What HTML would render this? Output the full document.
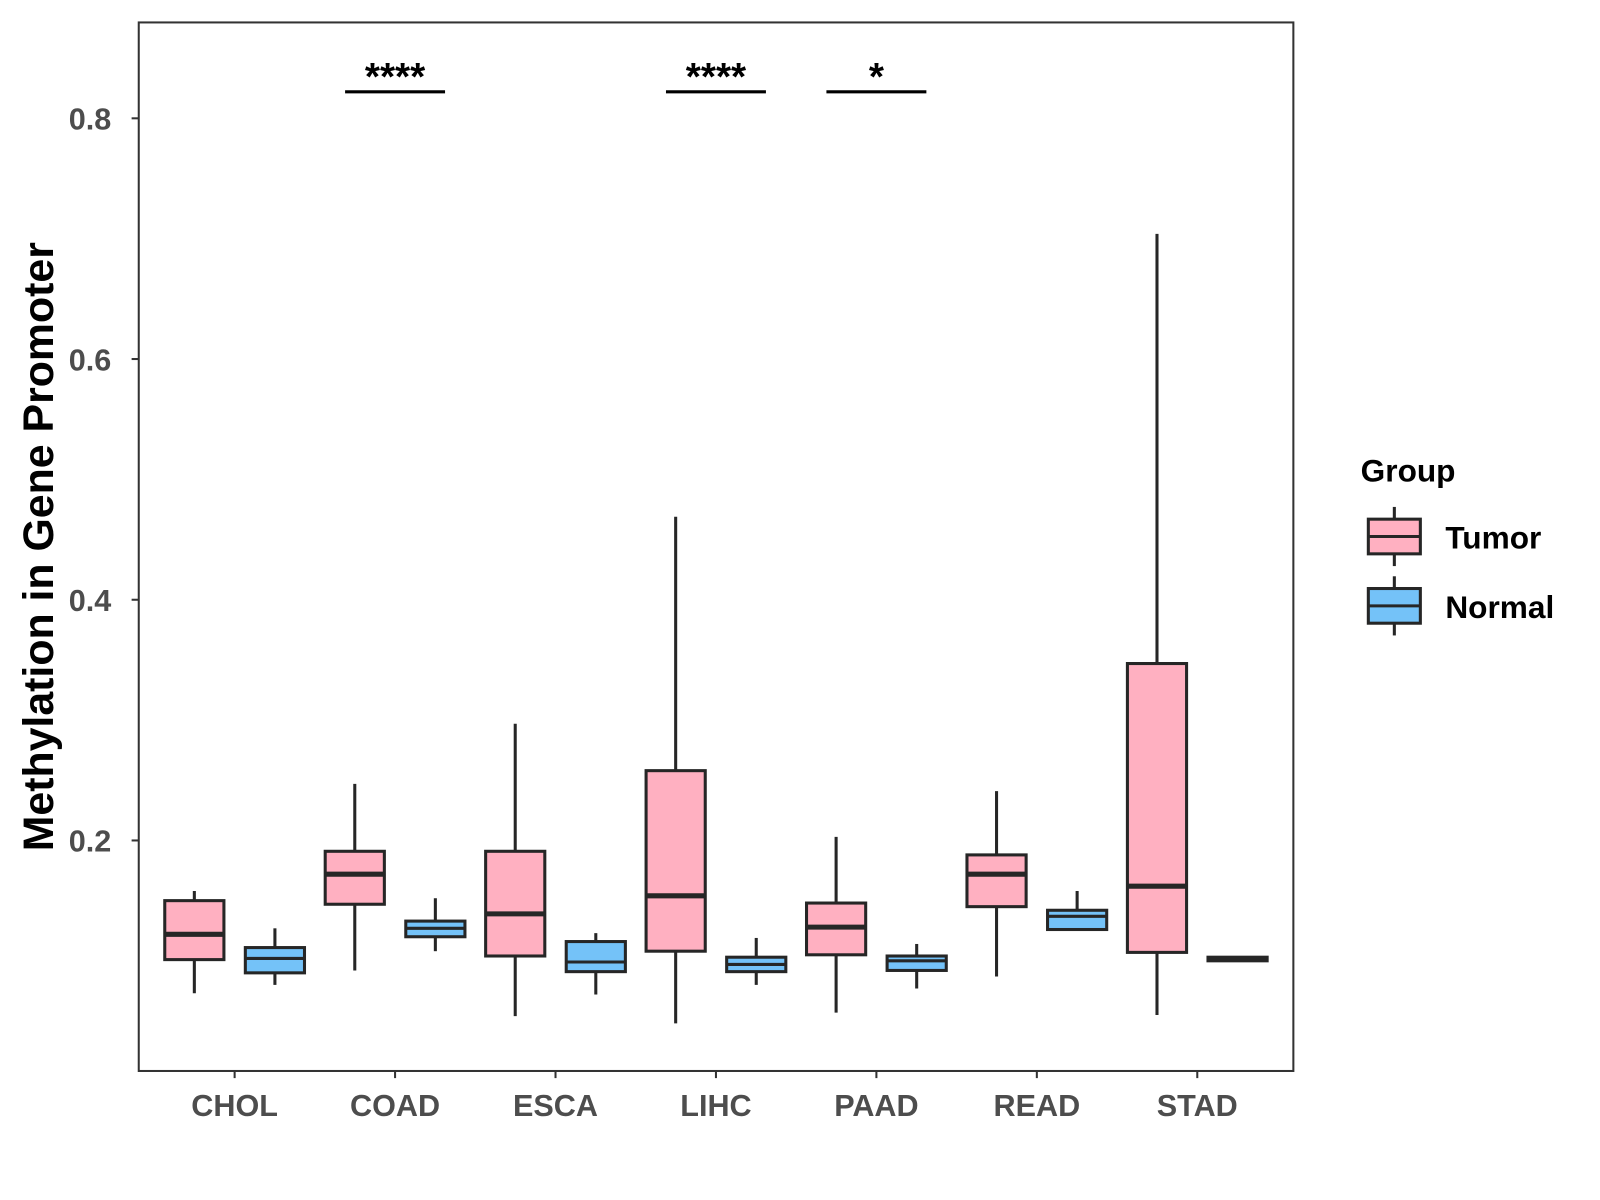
<!DOCTYPE html>
<html><head><meta charset="utf-8"><style>html,body{margin:0;padding:0;background:#fff}svg{display:block}</style></head>
<body>
<svg id="chart" width="1600" height="1200" viewBox="0 0 1568.6 1176.5" xmlns="http://www.w3.org/2000/svg" font-family="Liberation Sans, Arial, sans-serif" font-weight="bold">
<rect x="136" y="22" width="1132" height="1028" fill="#fff" stroke="#333" stroke-width="2"/>
<g id="axes"></g>
<g id="boxes"></g>
<g id="sig"></g>
<text transform="translate(52,536) rotate(-90)" text-anchor="middle" font-size="42" fill="#000">Methylation in Gene Promoter</text>
<g>
<text x="1334" y="472" font-size="31" fill="#000">Group</text>
<g>
<line x1="1367" y1="497" x2="1367" y2="555" stroke="#262626" stroke-width="3"/>
<rect x="1341.5" y="509" width="51" height="34" fill="#FFB0C1" stroke="#262626" stroke-width="3"/>
<line x1="1341.5" y1="526" x2="1392.5" y2="526" stroke="#262626" stroke-width="3"/>
<text x="1417" y="538" font-size="31" fill="#000">Tumor</text></g>
<g>
<line x1="1367" y1="565" x2="1367" y2="623" stroke="#262626" stroke-width="3"/>
<rect x="1341.5" y="577" width="51" height="34" fill="#74C2F8" stroke="#262626" stroke-width="3"/>
<line x1="1341.5" y1="594" x2="1392.5" y2="594" stroke="#262626" stroke-width="3"/>
<text x="1417" y="606" font-size="31" fill="#000">Normal</text></g>
</g>
</svg>
<script>
const categories = ["CHOL","COAD","ESCA","LIHC","PAAD","READ","STAD"];
// [lower whisker, q1, median, q3, upper whisker]
const tumorStats = [
 [0.073,0.101,0.122,0.150,0.158],
 [0.092,0.147,0.172,0.191,0.247],
 [0.054,0.104,0.139,0.191,0.297],
 [0.048,0.108,0.154,0.258,0.469],
 [0.057,0.105,0.128,0.148,0.203],
 [0.087,0.145,0.172,0.188,0.241],
 [0.055,0.107,0.162,0.347,0.704]];
const normalStats = [
 [0.080,0.090,0.102,0.111,0.127],
 [0.108,0.120,0.127,0.133,0.152],
 [0.072,0.091,0.099,0.116,0.123],
 [0.080,0.091,0.097,0.103,0.119],
 [0.077,0.092,0.100,0.104,0.114],
 [0.126,0.126,0.137,0.142,0.158],
 [0.100,0.100,0.102,0.103,0.103]];
const yTicks = [0.2,0.4,0.6,0.8];
const yTickLabels = ["0.2","0.4","0.6","0.8"];
const sigCategories = ["COAD","LIHC","PAAD"];
const sigLabels = ["****","****","*"];
const sigLevel = 0.822;

const NS="http://www.w3.org/2000/svg";
const y = v => 116 + (0.8 - v) * 1180;
const x = i => 230 + i * 157.3;
function mk(tag, attrs, parent){const e=document.createElementNS(NS,tag);for(const k in attrs)e.setAttribute(k,attrs[k]);parent.appendChild(e);return e;}
const axes=document.getElementById('axes'), boxes=document.getElementById('boxes'), sig=document.getElementById('sig');
yTicks.forEach((t,i)=>{
  const l=mk('line',{x1:129,x2:136,y1:y(t),y2:y(t),stroke:'#333','stroke-width':2},axes);
  
  
  const tx=mk('text',{x:109,y:y(t)+11,'text-anchor':'end','font-size':30,fill:'#4d4d4d'},axes);
  tx.textContent=yTickLabels[i];
  
  
});
categories.forEach((c,i)=>{
  const l=mk('line',{x1:x(i),x2:x(i),y1:1050,y2:1057,stroke:'#333','stroke-width':2},axes);
  
  
  const tx=mk('text',{x:x(i),y:1094,'text-anchor':'middle','font-size':30,fill:'#4d4d4d'},axes);
  tx.textContent=c;
  
  
  [[tumorStats[i],-39.5,'#FFB0C1','tumor'],[normalStats[i],39.5,'#74C2F8','normal']].forEach(([s,off,col,nm])=>{
    const cx=x(i)+off, w=58;
    const g=mk('g',{},boxes);
    
    
    mk('line',{x1:cx,x2:cx,y1:y(s[4]),y2:y(s[0]),stroke:'#262626','stroke-width':3},g);
    mk('rect',{x:cx-w/2,y:y(s[3]),width:w,height:Math.max(y(s[1])-y(s[3]),1),fill:col,stroke:'#262626','stroke-width':3},g);
    mk('line',{x1:cx-w/2,x2:cx+w/2,y1:y(s[2]),y2:y(s[2]),stroke:'#262626','stroke-width':nm==='tumor'?5:3},g);
  });
});
sigCategories.forEach((c,k)=>{
  const i=categories.indexOf(c);
  const g=mk('g',{},sig);
  
  
  mk('line',{x1:x(i)-49,x2:x(i)+49,y1:y(sigLevel),y2:y(sigLevel),stroke:'#000','stroke-width':3},g);
  const t=mk('text',{x:x(i),y:y(sigLevel)-2,'text-anchor':'middle','font-size':38,fill:'#000'},g);
  t.textContent=sigLabels[k];
});
</script>
</body></html>
